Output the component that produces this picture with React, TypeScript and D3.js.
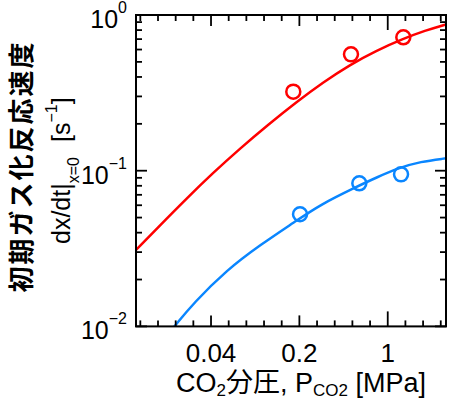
import React from 'react';
import * as d3 from 'd3';

// Fitted curves (CO2 partial pressure [MPa], initial rate [1/s])
const redCurveP = [0.0102, 0.0158, 0.02536, 0.04148, 0.06784, 0.113, 0.1882, 0.3077, 0.5033, 0.808, 1.3216, 1.973, 2.893];
const redCurveRate = [0.03096, 0.04459, 0.0658, 0.09681, 0.1389, 0.1974, 0.275, 0.3696, 0.4795, 0.5897, 0.7034, 0.794, 0.8702];
const blueCurveP = [0.01895, 0.02076, 0.02898, 0.05325, 0.09767, 0.1848, 0.2913, 0.5685, 0.8184, 1.251, 1.802, 2.893];
const blueCurveRate = [0.009233, 0.0101, 0.01407, 0.02303, 0.03332, 0.04703, 0.06047, 0.07891, 0.09071, 0.1048, 0.1142, 0.1201];

// Measured points
const redPointsP = [0.179, 0.512, 1.328];
const redPointsRate = [0.322, 0.559, 0.719];
const bluePointsP = [0.2024, 0.596, 1.274];
const bluePointsRate = [0.0525, 0.083, 0.0948];

// Axes
const xTickValues = [0.04, 0.2, 1];
const xTickLabels = ['0.04', '0.2', '1'];
const yTickValues = [1, 0.1, 0.01];
const yTickExponents = ['0', '\u22121', '\u22122'];

const RED = '#ff0000';
const BLUE = '#0a86ff';
const FONT = '"Liberation Sans", Arial, "Noto Sans CJK JP", sans-serif';
const CJK = '"Noto Sans CJK JP", "Liberation Sans", sans-serif';

export default function App() {
  const W = 449, H = 401;
  const L = 136, R = 446, T = 15, B = 326.4;
  const x = d3.scaleLog().domain([0.0102, 2.89]).range([L, R]);
  const y = d3.scaleLog().domain([0.01, 1]).range([B, T]);

  const line = d3
    .line<[number, number]>()
    .x((d) => x(d[0]))
    .y((d) => y(d[1]))
    .curve(d3.curveBasis);

  const redCurve = redCurveP.map((p, i) => [p, redCurveRate[i]] as [number, number]);
  const blueCurve = blueCurveP.map((p, i) => [p, blueCurveRate[i]] as [number, number]);

  // x minor ticks: 5 equal log steps between labelled ticks (factor 5)
  const xTicks: { v: number; len: number }[] = [];
  for (let k = -6; k <= 16; k++) {
    const v = 0.04 * Math.pow(5, k / 5);
    if (v < 0.0102 * 1.01 || v > 2.89 * 0.995) continue;
    let len = 6;
    if (k % 5 === 0) len = 11;
    if (k === 10) len = 15;
    xTicks.push({ v, len });
  }
  const yTicks: { v: number; len: number }[] = [];
  for (const d of [-2, -1]) {
    for (let m = 1; m <= 9; m++) {
      yTicks.push({ v: m * Math.pow(10, d), len: m === 1 ? 11 : 6 });
    }
  }
  yTicks.push({ v: 1, len: 11 });

  return (
    <svg
      width={W}
      height={H}
      style={{ position: 'absolute', left: 0, top: 0, background: '#fff' }}
      fontFamily={FONT}
    >
      <defs>
        <clipPath id="plotclip">
          <rect x={L} y={T} width={R - L} height={B - T} />
        </clipPath>
      </defs>
      <rect x={0} y={0} width={W} height={H} fill="#fff" />

      {/* curves */}
      <g clipPath="url(#plotclip)" fill="none" strokeWidth={2.5} strokeLinecap="round">
        <path d={line(redCurve) || ''} stroke={RED} />
        <path d={line(blueCurve) || ''} stroke={BLUE} />
      </g>

      {/* points */}
      <g fill="none" strokeWidth={2.5}>
        {redPointsP.map((p, i) => (
          <circle key={'r' + i} cx={x(p)} cy={y(redPointsRate[i])} r={7} stroke={RED} />
        ))}
        {bluePointsP.map((p, i) => (
          <circle key={'b' + i} cx={x(p)} cy={y(bluePointsRate[i])} r={7} stroke={BLUE} />
        ))}
      </g>

      {/* ticks */}
      <g stroke="#000" strokeWidth={1.8}>
        {xTicks.map((t, i) => (
          <g key={'xt' + i}>
            <line x1={x(t.v)} x2={x(t.v)} y1={B} y2={B - t.len} />
            <line x1={x(t.v)} x2={x(t.v)} y1={T} y2={T + t.len} />
          </g>
        ))}
        {yTicks.map((t, i) => (
          <g key={'yt' + i}>
            <line x1={L} x2={L + t.len} y1={y(t.v)} y2={y(t.v)} />
            <line x1={R} x2={R - t.len} y1={y(t.v)} y2={y(t.v)} />
          </g>
        ))}
      </g>

      {/* frame */}
      <rect x={L} y={T} width={R - L} height={B - T} fill="none" stroke="#000" strokeWidth={2} />

      {/* x tick labels */}
      {xTickValues.map((v, i) => (
        <text key={'xl' + i} x={x(v)} y={362} fontSize={26} textAnchor="middle" fill="#000">
          {xTickLabels[i]}
        </text>
      ))}

      {/* y tick labels */}
      {yTickValues.map((v, i) => (
        <text key={'yl' + i} x={127} y={y(v) + 13} fontSize={25} textAnchor="end" fill="#000">
          10
          <tspan dy={-15} fontSize={16}>
            {yTickExponents[i]}
          </tspan>
        </text>
      ))}

      {/* x axis title */}
      <text x={176} y={392} fontSize={27} fill="#000">
        CO
        <tspan dy={4} fontSize={17}>2</tspan>
        <tspan dy={-4} fontFamily={CJK}>分圧</tspan>
        <tspan>, P</tspan>
        <tspan dy={4} fontSize={17}>CO2</tspan>
        <tspan dy={-4}> [MPa]</tspan>
      </text>

      {/* y axis title line 1 */}
      <text
        transform="translate(31,166.5) rotate(-90)"
        textAnchor="middle"
        fontSize={26}
        fontWeight="bold"
        fontFamily={CJK}
        letterSpacing={2}
        fill="#000"
      >
        初期ガス化反応速度
      </text>

      {/* y axis title line 2 */}
      <g transform="translate(70,244) rotate(-90)">
        <text x={0} y={0} fontSize={25} fill="#000">
          dx/dt|
          <tspan dy={9} fontSize={16}>x=0</tspan>
        </text>
        <text x={102} y={0} fontSize={25} fill="#000">
          [s
          <tspan dy={-13} fontSize={16}>{'\u22121'}</tspan>
          <tspan dy={13}>]</tspan>
        </text>
      </g>
    </svg>
  );
}
